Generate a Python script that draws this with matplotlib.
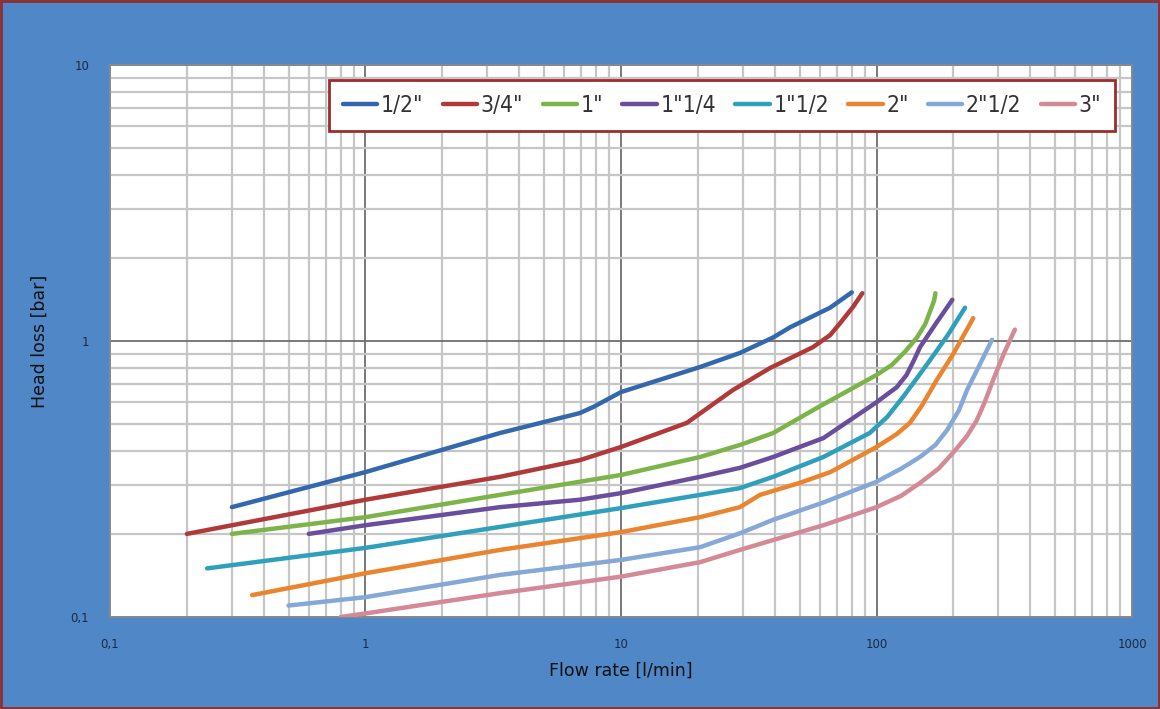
import matplotlib.pyplot as plt
from matplotlib.patches import Rectangle
from matplotlib.ticker import FixedLocator, LogLocator, NullFormatter
from matplotlib import font_manager

# sizes (legend labels)
sizes = ['1/2"', '3/4"', '1"', '1"1/4', '1"1/2', '2"', '2"1/2', '3"']
colors = ['#3368ad', '#b03a3a', '#7db44a', '#6a4d9c', '#2fa0bb',
          '#ea842e', '#86a8d6', '#d48a96']

# flow rate [l/min] / head loss [bar]
q_12 = [0.3, 1, 3.36, 6.9, 7.8, 10, 20.4, 29.2, 39.4, 45.8, 65.8, 80]
p_12 = [0.25, 0.335, 0.464, 0.548, 0.577, 0.653, 0.805, 0.905, 1.03, 1.12, 1.32, 1.5]

q_34 = [0.2, 1, 3.36, 6.9, 10, 18.1, 27.4, 38.3, 56.4, 65.8, 72, 81, 88]
p_34 = [0.2, 0.266, 0.322, 0.37, 0.413, 0.505, 0.664, 0.798, 0.95, 1.05, 1.16, 1.33, 1.49]

q_1 = [0.3, 1, 3.36, 10, 20.4, 29.2, 39.4, 60, 100, 115, 130, 144, 155, 163, 168, 170]
p_1 = [0.2, 0.23, 0.277, 0.327, 0.38, 0.42, 0.464, 0.58, 0.753, 0.82, 0.92, 1.03, 1.15,
       1.3, 1.4, 1.49]

q_114 = [0.6, 1, 3.36, 6.9, 10, 20.4, 29.2, 39.4, 50, 62, 100, 120, 131, 140, 148, 170, 198]
p_114 = [0.2, 0.215, 0.25, 0.266, 0.281, 0.322, 0.347, 0.38, 0.413, 0.445, 0.6, 0.68,
         0.753, 0.85, 0.95, 1.15, 1.41]

q_112 = [0.24, 1, 3.36, 10, 20.4, 29.2, 39.4, 62, 94, 110, 127, 145, 162, 190, 222]
p_112 = [0.15, 0.178, 0.212, 0.248, 0.277, 0.293, 0.322, 0.38, 0.464, 0.53, 0.627, 0.74,
         0.853, 1.05, 1.32]

q_2 = [0.36, 1, 3.36, 10, 20.4, 29.2, 35, 50, 66, 100, 120, 135, 150, 172, 200, 239]
p_2 = [0.12, 0.144, 0.175, 0.203, 0.23, 0.25, 0.277, 0.306, 0.335, 0.413, 0.46, 0.505,
       0.58, 0.722, 0.9, 1.21]

q_212 = [0.5, 1, 3.36, 10, 20.4, 29.2, 39.4, 62, 100, 125, 148, 170, 189, 210, 226, 250, 283]
p_212 = [0.11, 0.118, 0.142, 0.161, 0.179, 0.201, 0.225, 0.26, 0.309, 0.345, 0.38, 0.42,
         0.476, 0.56, 0.664, 0.8, 1.01]

q_3 = [0.8, 1, 3.36, 10, 20.4, 29.2, 39.4, 62, 100, 125, 148, 175, 199, 225, 247, 265,
       286, 315, 348]
p_3 = [0.1, 0.103, 0.122, 0.14, 0.158, 0.175, 0.19, 0.215, 0.25, 0.275, 0.306, 0.345,
       0.393, 0.45, 0.517, 0.6, 0.722, 0.9, 1.1]

flows = [q_12, q_34, q_1, q_114, q_112, q_2, q_212, q_3]
losses = [p_12, p_34, p_1, p_114, p_112, p_2, p_212, p_3]

x_ticks = [0.1, 1, 10, 100, 1000]
x_labels = ['0,1', '1', '10', '100', '1000']
y_ticks = [0.1, 1, 10]
y_labels = ['0,1', '1', '10']

# condensed face for the legend, if there is one
names = {f.name for f in font_manager.fontManager.ttflist}
if 'Liberation Sans Narrow' in names:
    leg_font = {'family': 'Liberation Sans Narrow', 'size': 18}
elif 'DejaVu Sans' in names:
    leg_font = {'family': 'DejaVu Sans', 'stretch': 'condensed', 'size': 16.5}
else:
    leg_font = {'size': 15}

bg = '#4f87c7'
fig = plt.figure(figsize=(11.6, 7.09), dpi=100, facecolor=bg)
ax = fig.add_axes([0.0948, 0.1298, 0.8811, 0.7785])
ax.set_facecolor('white')

for q, p, c, lab in zip(flows, losses, colors, sizes):
    ax.plot(q, p, color=c, lw=3.2, label=lab, solid_capstyle='round',
            solid_joinstyle='round', zorder=3)

ax.set_xscale('log')
ax.set_yscale('log')
ax.set_xlim(0.1, 1000)
ax.set_ylim(0.1, 10)

ax.xaxis.set_major_locator(FixedLocator(x_ticks))
ax.yaxis.set_major_locator(FixedLocator(y_ticks))
ax.set_xticklabels(x_labels)
ax.set_yticklabels(y_labels)
ax.xaxis.set_minor_locator(LogLocator(base=10, subs=range(2, 10)))
ax.yaxis.set_minor_locator(LogLocator(base=10, subs=range(2, 10)))
ax.xaxis.set_minor_formatter(NullFormatter())
ax.yaxis.set_minor_formatter(NullFormatter())

ax.grid(which='minor', color='#c6c6c6', lw=1.6, zorder=1)
ax.grid(which='major', color='#6e6e6e', lw=1.3, zorder=2)
ax.tick_params(which='both', length=0)
ax.tick_params(axis='x', pad=15, labelsize=8.5, labelcolor='#1c2a44')
ax.tick_params(axis='y', pad=15, labelsize=8.5, labelcolor='#1c2a44')
for s in ax.spines.values():
    s.set_color('#8a8a8a')
    s.set_linewidth(1.3)

ax.set_xlabel('Flow rate [l/min]', fontsize=12.5, color='#111111', labelpad=8)
ax.set_ylabel('Head loss [bar]', fontsize=12.5, color='#111111', labelpad=16)

leg = ax.legend(loc='upper right', bbox_to_anchor=(0.9834, 0.9728), ncol=8,
                frameon=True, fancybox=False, borderaxespad=0,
                handlelength=1.5, handletextpad=0.15, columnspacing=0.85,
                borderpad=0.6, prop=leg_font)
leg.get_frame().set_edgecolor('#9b2d2d')
leg.get_frame().set_linewidth(2)
leg.get_frame().set_alpha(1)
for t in leg.get_texts():
    t.set_color('#333333')

fig.patches.append(Rectangle((0.001, 0.002), 0.998, 0.996, transform=fig.transFigure,
                             fill=False, edgecolor='#8e2f2f', lw=2))

fig.savefig('out.png', dpi=100, facecolor=bg)
